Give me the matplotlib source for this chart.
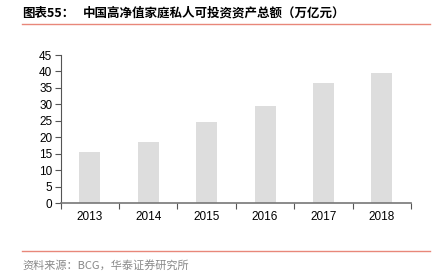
import matplotlib.pyplot as plt
from matplotlib.lines import Line2D

plt.rcParams['font.family'] = ['Noto Sans CJK SC', 'DejaVu Sans']

years = ['2013', '2014', '2015', '2016', '2017', '2018']
assets = [15.4, 18.4, 24.5, 29.5, 36.5, 39.4]
yticks = list(range(0, 50, 5))

fig = plt.figure(figsize=(4.38, 2.74), dpi=100)
ax = fig.add_axes([60.7 / 438, 1 - 203 / 274, (411 - 60.7) / 438, 148 / 274])

ax.bar(range(len(years)), assets, width=0.36, color='#dddddd')
ax.set_xlim(-0.5, len(years) - 0.5)
ax.set_ylim(0, 45)
ax.set_yticks(yticks)
# ticks between categories, labels centred on bars
ax.set_xticks([i - 0.5 for i in range(len(years) + 1)])
ax.set_xticklabels([])
ax.set_xticks(range(len(years)), minor=True)
ax.set_xticklabels(years, minor=True)
ax.tick_params(axis='x', which='major', length=4, direction='out', color='#555555')
ax.tick_params(axis='x', which='minor', length=0, labelsize=8.5, pad=6)
ax.tick_params(axis='y', length=4, direction='out', color='#555555', labelsize=8.5, pad=2)
for lab in ax.get_xticklabels(minor=True) + ax.get_yticklabels():
    lab.set_family('Liberation Sans')
ax.spines['top'].set_visible(False)
ax.spines['right'].set_visible(False)
ax.spines['left'].set_color('#555555')
ax.spines['bottom'].set_color('#777777')
ax.spines['bottom'].set_linewidth(1.2)

fig.text(22 / 438, 1 - 13 / 274, '图表55：', fontsize=9, fontweight='bold',
         va='center', ha='left')
fig.text(83 / 438, 1 - 13 / 274, '中国高净值家庭私人可投资资产总额（万亿元）',
         fontsize=9, fontweight='bold', va='center', ha='left')
fig.lines.append(Line2D([22 / 438, 430 / 438], [1 - 24 / 274] * 2, color='#e8877a', lw=1,
                        transform=fig.transFigure))
fig.lines.append(Line2D([22 / 438, 430 / 438], [1 - 251 / 274] * 2, color='#e8877a', lw=1,
                        transform=fig.transFigure))
fig.text(22 / 438, 1 - 265 / 274, '资料来源：BCG，华泰证券研究所',
         fontsize=8, color='#888888', va='center', ha='left')

fig.savefig('out.png', dpi=100)
